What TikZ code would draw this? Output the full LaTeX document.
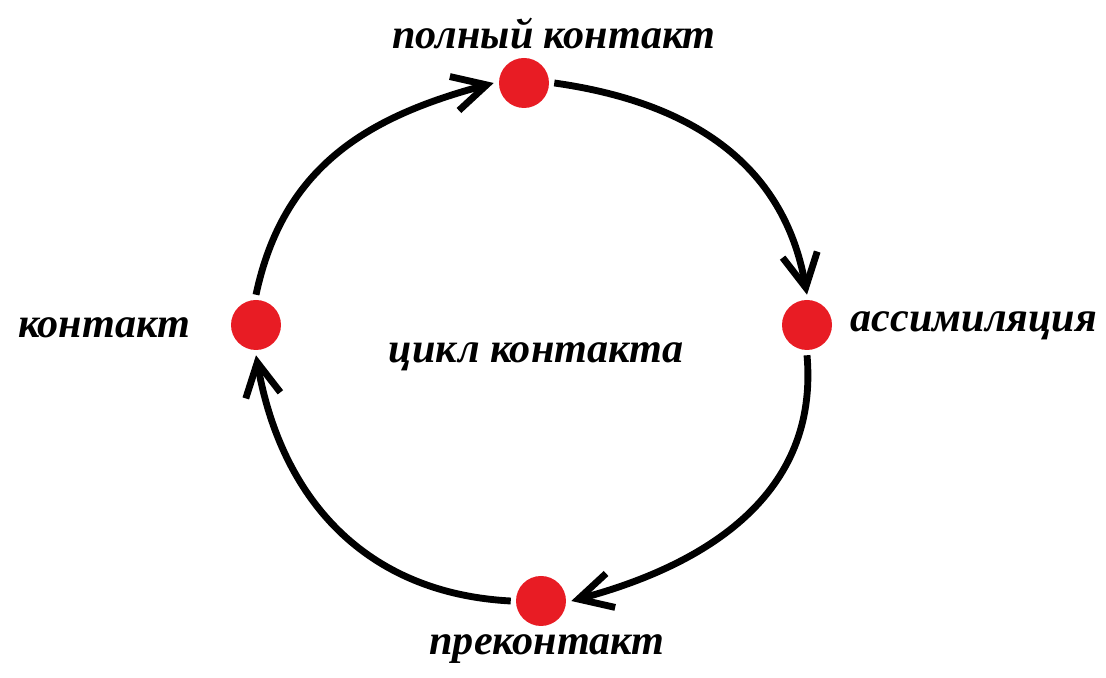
\documentclass[tikz,border=0pt]{standalone}
\usepackage{fontspec}
\setmainfont{Liberation Serif}
\usetikzlibrary{arrows.meta}

\tikzset{
  stage/.style={circle, fill=stagered, minimum size=1cm, inner sep=0pt, outer sep=3pt},
  cycarrow/.style={line width=3.9pt, looseness=1.05, -{Straight Barb[length=19pt,width=20pt]}},
  stagelabel/.style={anchor=base, font=\fontsize{24pt}{28pt}\selectfont\bfseries\itshape}
}
\definecolor{stagered}{RGB}{232,28,36}

\begin{document}
\begin{tikzpicture}[x=0.02cm,y=0.02cm]
        % рамка 1106 x 678
        \useasboundingbox (0,0) rectangle (1106,678);

        % стадии цикла
        \node[stage] (full) at (524,595) {};
        \node[stage] (assim) at (807,353) {};
        \node[stage] (pre) at (541,77) {};
        \node[stage] (cont) at (256,353) {};

        % стрелки по кругу
        \draw[cycarrow] (cont.north) to[out=78,in=195] (full.west);
        \draw[cycarrow] (full.east) to[out=-8,in=100] (assim.north);
        \draw[cycarrow] (assim.south) to[out=-85,in=15] (pre.east);
        \draw[cycarrow] (pre.west) to[out=177,in=-80] (cont.south);

        % подписи
        \node[stagelabel] (fulltxt) at (554,629) {полный контакт};
        \node[stagelabel] (assimtxt) at (974,346) {ассимиляция};
        \node[stagelabel] (conttxt) at (104,340) {контакт};
        \node[stagelabel] (cycletxt) at (536,315) {цикл контакта};
        \node[stagelabel] (pretxt) at (547,23) {преконтакт};
    \end{tikzpicture}
\end{document}
